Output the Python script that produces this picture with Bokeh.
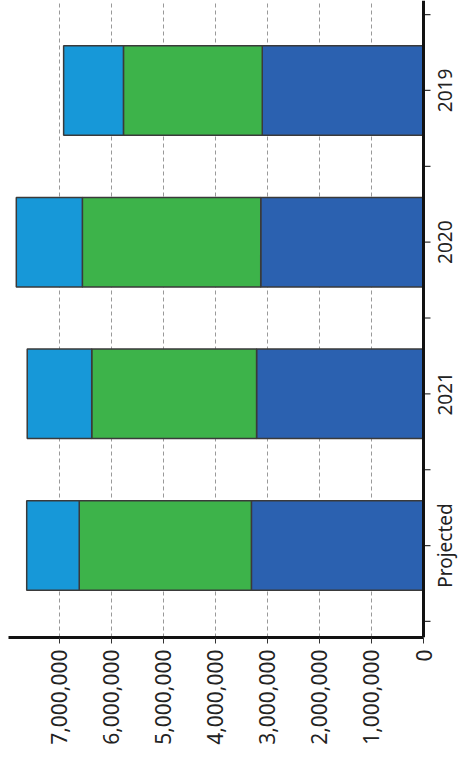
import math
from bokeh.plotting import figure
from bokeh.core.properties import value
from bokeh.models import (Range1d, FixedTicker, NumeralTickFormatter, LinearAxis,
                          ColumnDataSource, Grid, Span, LabelSet)
from bokeh.embed import file_html
from bokeh.resources import INLINE

categories = ["2019", "2020", "2021", "Projected"]
base_values = [3100000, 3130000, 3210000, 3310000]
mid_values = [2670000, 3430000, 3170000, 3310000]
top_values = [1150000, 1270000, 1240000, 1010000]
value_ticks = [0, 1000000, 2000000, 3000000, 4000000, 5000000, 6000000, 7000000]

n = len(categories)
ypos = [n - i - 0.5 for i in range(n)]
src = ColumnDataSource(dict(y=ypos, base=base_values, mid=mid_values, top=top_values,
                            name=categories, lx=[-415000] * n))
cat_ticks = sorted(ypos + [float(k) for k in range(n + 1)])

FONT = "Noto Sans"
X_MAX = 7980000

p = figure(frame_width=450, frame_height=637, output_backend="svg", toolbar_location=None,
           x_range=Range1d(X_MAX, -673000), y_range=Range1d(-0.106, 4.093),
           x_axis_location=None, y_axis_location=None,
           min_border_left=8, min_border_top=0, min_border_right=0, min_border_bottom=0)
p.outline_line_color = None
p.background_fill_color = "white"
p.xgrid.visible = False
p.ygrid.visible = False

g = Grid(dimension=0, ticker=FixedTicker(ticks=value_ticks[1:]))
g.grid_line_color = "#999"
g.grid_line_dash = "4 3"
g.grid_line_width = 1
p.add_layout(g, "center")

colors = ["#2b61b0", "#3db34a", "#1798d8"]
p.hbar_stack(["base", "mid", "top"], y="y", height=0.59, source=src, color=colors,
             line_color="#3a3a3a", line_width=1.5)

xaxis = LinearAxis(ticker=FixedTicker(ticks=value_ticks, minor_ticks=[]),
                   formatter=NumeralTickFormatter(format="0,0"), bounds=(0, X_MAX))
xaxis.axis_line_color = "#111"
xaxis.axis_line_width = 3
xaxis.major_tick_out = 6
xaxis.major_tick_in = 0
xaxis.major_tick_line_color = "#333"
xaxis.minor_tick_line_color = None
xaxis.major_label_orientation = math.pi / 2
xaxis.major_label_standoff = 6
xaxis.major_label_text_font = FONT
xaxis.major_label_text_font_size = "21px"
xaxis.major_label_text_color = "#222"
p.add_layout(xaxis, "below")

# category axis line at zero, with outward ticks
p.add_layout(Span(location=0, dimension="height", line_color="#111", line_width=3))
p.ray(x=[0] * len(cat_ticks), y=cat_ticks, length=7, length_units="screen", angle=0,
      line_color="#333", line_width=1.2)

labels = LabelSet(x="lx", y="y", text="name", source=src, angle=math.pi / 2,
                  text_align="center", text_baseline="middle", text_line_height=1.0,
                  text_font=value(FONT), text_font_size="19px", text_color="#222")
p.add_layout(labels)

open("out.html", "w").write(file_html(p, INLINE))
